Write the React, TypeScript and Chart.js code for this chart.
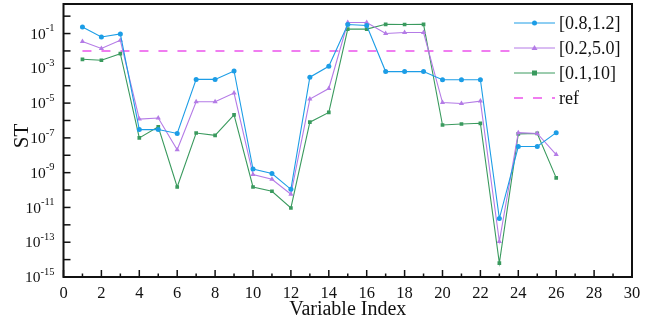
import React, { useEffect, useRef } from "react";
import { Chart, registerables } from "chart.js";

Chart.register(...registerables);

const variableIndex = [1, 2, 3, 4, 5, 6, 7, 8, 9, 10, 11, 12, 13, 14, 15, 16, 17, 18, 19, 20, 21, 22, 23, 24, 25, 26];
const seriesA = [0.24, 0.063, 0.095, 3e-7, 3e-7, 1.8e-7, 2.3e-4, 2.3e-4, 7e-4, 1.6e-9, 8.9e-10, 1.1e-10, 3.1e-4, 1.3e-3, 0.33, 0.29, 6.5e-4, 6.5e-4, 6.5e-4, 2.2e-4, 2.2e-4, 2.2e-4, 2.3e-12, 3.2e-8, 3.2e-8, 2e-7];
const seriesB = [0.035, 0.014, 0.041, 1.2e-6, 1.4e-6, 2.1e-8, 1.2e-5, 1.2e-5, 3.8e-5, 7.8e-10, 4.2e-10, 5.7e-11, 1.7e-5, 6.9e-5, 0.43, 0.43, 0.1, 0.114, 0.114, 1.07e-5, 9.4e-6, 1.3e-5, 1.1e-13, 2e-7, 1.8e-7, 1.1e-8];
const seriesC = [3.3e-3, 2.9e-3, 7e-3, 1e-7, 4.3e-7, 1.5e-10, 1.9e-7, 1.4e-7, 2.1e-6, 1.5e-10, 8.5e-11, 9.3e-12, 8e-7, 2.9e-6, 0.18, 0.18, 0.34, 0.33, 0.34, 5.5e-7, 6.3e-7, 6.9e-7, 6.3e-15, 1.7e-7, 1.8e-7, 5e-10];
const refX = [1, 30];
const refY = [0.01, 0.01];
const seriesNames = ["[0.8,1.2]", "[0.2,5.0]", "[0.1,10]", "ref"];
const xTickValues = [0, 2, 4, 6, 8, 10, 12, 14, 16, 18, 20, 22, 24, 26, 28, 30];
const yExponents = [-15, -14, -13, -12, -11, -10, -9, -8, -7, -6, -5, -4, -3, -2, -1, 0];
const yLabelExponents = [-15, -13, -11, -9, -7, -5, -3, -1];
const xTitle = "Variable Index";
const yTitle = "ST";

const BLUE = "#1c9de6";
const PURPLE = "#b47be6";
const GREEN = "#3a9a5e";
const REF = "#f07df0";
const FONT = "'Liberation Serif', 'Times New Roman', serif";

const toPts = (xs: number[], ys: number[]) => xs.map((x, i) => ({ x, y: ys[i] }));

const axesPlugin = {
  id: "customAxes",
  afterDatasetsDraw(chart: any) {
    const ctx = chart.ctx;
    const { left, right, top, bottom } = chart.chartArea;
    const xs = chart.scales.x;
    const ys = chart.scales.y;
    ctx.save();
    // frame
    ctx.strokeStyle = "#111";
    ctx.lineWidth = 2;
    ctx.strokeRect(left, top, right - left, bottom - top);
    // x ticks (inside)
    ctx.lineWidth = 1.5;
    for (let v = 0; v <= 30; v++) {
      const px = xs.getPixelForValue(v);
      const len = v % 2 === 0 ? 7 : 3.5;
      ctx.beginPath();
      ctx.moveTo(px, bottom);
      ctx.lineTo(px, bottom - len);
      ctx.stroke();
    }
    // y ticks (inside)
    yExponents.forEach((e) => {
      const py = ys.getPixelForValue(Math.pow(10, e));
      ctx.beginPath();
      ctx.moveTo(left, py);
      ctx.lineTo(left + 7, py);
      ctx.stroke();
    });
    // x tick labels
    ctx.fillStyle = "#111";
    ctx.font = `16.5px ${FONT}`;
    ctx.textAlign = "center";
    ctx.textBaseline = "middle";
    xTickValues.forEach((v) => {
      ctx.fillText(String(v), xs.getPixelForValue(v), bottom + 17);
    });
    // y tick labels with superscripts
    yLabelExponents.forEach((e) => {
      const py = ys.getPixelForValue(Math.pow(10, e));
      const rightX = left - 9;
      ctx.font = `10.5px ${FONT}`;
      const expStr = "-" + String(Math.abs(e));
      const ew = ctx.measureText(expStr).width;
      ctx.textAlign = "left";
      ctx.textBaseline = "middle";
      ctx.fillText(expStr, rightX - ew, py - 5);
      ctx.font = `15.5px ${FONT}`;
      ctx.textAlign = "right";
      ctx.fillText("10", rightX - ew, py + 1);
    });
    // axis titles
    ctx.font = `20px ${FONT}`;
    ctx.textAlign = "center";
    ctx.textBaseline = "middle";
    ctx.fillText(xTitle, (left + right) / 2, bottom + 33);
    ctx.save();
    ctx.translate(22, 136);
    ctx.rotate(-Math.PI / 2);
    ctx.font = `21px ${FONT}`;
    ctx.fillText(yTitle, 0, 0);
    ctx.restore();

    // legend
    const lx0 = 511;
    ctx.fillStyle = "#fff";
    ctx.fillRect(lx0, top + 2, right - lx0 - 1, 108);
    const rows = [
      { color: BLUE, marker: "circle" },
      { color: PURPLE, marker: "triangle" },
      { color: GREEN, marker: "square" },
      { color: REF, marker: "dash" },
    ];
    rows.forEach((r, i) => {
      const y = 23 + i * 25;
      ctx.strokeStyle = r.color;
      ctx.fillStyle = r.color;
      if (r.marker === "dash") {
        ctx.lineWidth = 2;
        ctx.setLineDash([9, 10]);
        ctx.beginPath();
        ctx.moveTo(514, y);
        ctx.lineTo(555, y);
        ctx.stroke();
        ctx.setLineDash([]);
      } else {
        ctx.lineWidth = 1;
        ctx.beginPath();
        ctx.moveTo(514, y);
        ctx.lineTo(555, y);
        ctx.stroke();
        const cx = 534.5;
        ctx.beginPath();
        if (r.marker === "circle") {
          ctx.arc(cx, y, 2.5, 0, Math.PI * 2);
        } else if (r.marker === "triangle") {
          ctx.moveTo(cx, y - 3);
          ctx.lineTo(cx + 3, y + 2);
          ctx.lineTo(cx - 3, y + 2);
          ctx.closePath();
        } else {
          ctx.rect(cx - 2.5, y - 2.5, 5, 5);
        }
        ctx.fill();
      }
      ctx.fillStyle = "#111";
      ctx.font = `18px ${FONT}`;
      ctx.textAlign = "left";
      ctx.textBaseline = "middle";
      ctx.fillText(seriesNames[i], 559, y + 1);
    });
    ctx.restore();
  },
};

export default function App() {
  const canvasRef = useRef<HTMLCanvasElement | null>(null);
  useEffect(() => {
    if (!canvasRef.current) return;
    const chart = new Chart(canvasRef.current, {
      type: "line",
      data: {
        datasets: [
          {
            label: seriesNames[0],
            data: toPts(variableIndex, seriesA),
            borderColor: BLUE,
            backgroundColor: BLUE,
            borderWidth: 1.1,
            pointStyle: "circle",
            pointRadius: 2.5,
            pointBorderWidth: 0,
          },
          {
            label: seriesNames[1],
            data: toPts(variableIndex, seriesB),
            borderColor: PURPLE,
            backgroundColor: PURPLE,
            borderWidth: 1.1,
            pointStyle: "triangle",
            pointRadius: 3,
            pointBorderWidth: 0,
          },
          {
            label: seriesNames[2],
            data: toPts(variableIndex, seriesC),
            borderColor: GREEN,
            backgroundColor: GREEN,
            borderWidth: 1.1,
            pointStyle: "rect",
            pointRadius: 2.6,
            pointBorderWidth: 0,
          },
          {
            label: seriesNames[3],
            data: toPts(refX, refY),
            borderColor: REF,
            backgroundColor: REF,
            borderWidth: 2,
            borderDash: [9, 10],
            pointRadius: 0,
          },
        ],
      },
      options: {
        animation: false,
        responsive: false,
        maintainAspectRatio: false,
        layout: { padding: { left: 63.5, right: 22, top: 4, bottom: 50 } },
        plugins: { legend: { display: false }, tooltip: { enabled: false } },
        scales: {
          x: { type: "linear", min: 0, max: 30, display: false },
          y: { type: "logarithmic", min: 1e-15, max: 5, display: false },
        },
      },
      plugins: [axesPlugin],
    });
    return () => chart.destroy();
  }, []);
  return (
    <div style={{ position: "fixed", left: 0, top: 0, width: 654, height: 327, background: "#fff" }}>
      <canvas ref={canvasRef} width={654} height={327} style={{ width: 654, height: 327 }} />
    </div>
  );
}
